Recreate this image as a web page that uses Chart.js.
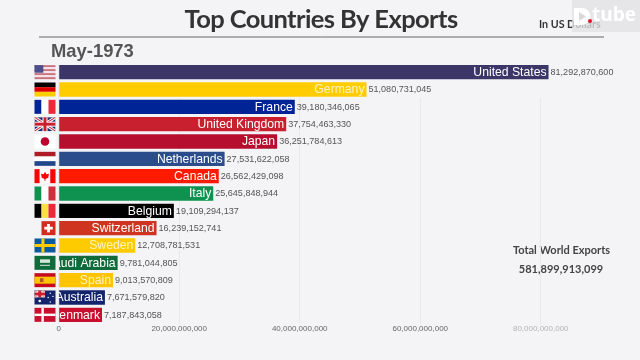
<!doctype html>
<html lang="en">

<head>
    <meta charset="utf-8">
    <title>Top Countries By Exports</title>
    <style>
        html, body { margin: 0; background: #f4f4f7; }
        canvas { display: block; }
    </style>
</head>

<body>
    <canvas id="myChart" width="640" height="360"></canvas>
    <script src="https://cdn.jsdelivr.net/npm/chart.js@4"></script>
    <script>
        var countries = ['United States', 'Germany', 'France', 'United Kingdom', 'Japan', 'Netherlands', 'Canada', 'Italy',
            'Belgium', 'Switzerland', 'Sweden', 'Saudi Arabia', 'Spain', 'Australia', 'Denmark'];
        var exportValues = [81292870600, 51080731045, 39180346065, 37754463330, 36251784613, 27531622058, 26562429098, 25645848944,
            19109294137, 16239152741, 12708781531, 9781044805, 9013570809, 7671579820, 7187843058];
        var barColors = ['#3c3567', '#ffcc00', '#002395', '#c8202f', '#b60e2f', '#2b4d8c', '#ff1a00', '#0f9150',
            '#000000', '#cf3420', '#fecb00', '#0f6b3a', '#fec400', '#14246b', '#c8102e'];
        var tickValues = [0, 20000000000, 40000000000, 60000000000, 80000000000];
        var titleText = 'Top Countries By Exports';
        var dateText = 'May-1973';
        var unitText = 'In US Dollars';
        var totalLabel = 'Total World Exports';
        var totalValue = 581899913099;

        function fmt(n) {
            return n.toLocaleString('en-US');
        }

        // 帯だけの国旗
        function hStripes(c, x, y, w, h, cols) {
            cols.forEach(function (col, i) {
                c.fillStyle = col;
                c.fillRect(x, y + h * i / cols.length, w, h / cols.length);
            });
        }
        function vStripes(c, x, y, w, h, cols) {
            cols.forEach(function (col, i) {
                c.fillStyle = col;
                c.fillRect(x + w * i / cols.length, y, w / cols.length, h);
            });
        }
        function cross(c, x, y, w, h, bg, fg, t) {
            c.fillStyle = bg;
            c.fillRect(x, y, w, h);
            c.fillStyle = fg;
            c.fillRect(x + w * 0.33, y, t, h);
            c.fillRect(x, y + h / 2 - t / 2, w, t);
        }
        function unionJack(c, x, y, w, h) {
            c.save();
            c.beginPath();
            c.rect(x, y, w, h);
            c.clip();
            c.fillStyle = '#1f2f6b';
            c.fillRect(x, y, w, h);
            c.lineWidth = 3;
            c.strokeStyle = '#ffffff';
            c.beginPath();
            c.moveTo(x, y); c.lineTo(x + w, y + h);
            c.moveTo(x + w, y); c.lineTo(x, y + h);
            c.stroke();
            c.lineWidth = 1.1;
            c.strokeStyle = '#c8202f';
            c.stroke();
            c.fillStyle = '#ffffff';
            c.fillRect(x + w / 2 - 2.5, y, 5, h);
            c.fillRect(x, y + h / 2 - 2.5, w, 5);
            c.fillStyle = '#c8202f';
            c.fillRect(x + w / 2 - 1.5, y, 3, h);
            c.fillRect(x, y + h / 2 - 1.5, w, 3);
            c.restore();
        }

        var flagDraw = {
            'United States': function (c, x, y, w, h) {
                for (var i = 0; i < 7; i++) {
                    c.fillStyle = i % 2 ? '#f3e3e4' : '#c8737f';
                    c.fillRect(x, y + h * i / 7, w, h / 7);
                }
                c.fillStyle = '#4d4f8c';
                c.fillRect(x, y, w * 0.42, h * 0.54);
            },
            'Germany': function (c, x, y, w, h) { hStripes(c, x, y, w, h, ['#000000', '#dd0000', '#ffce00']); },
            'France': function (c, x, y, w, h) { vStripes(c, x, y, w, h, ['#002395', '#ffffff', '#ed2939']); },
            'United Kingdom': unionJack,
            'Japan': function (c, x, y, w, h) {
                c.fillStyle = '#ffffff';
                c.fillRect(x, y, w, h);
                c.fillStyle = '#bc002d';
                c.beginPath();
                c.arc(x + w / 2, y + h / 2, 4.3, 0, Math.PI * 2);
                c.fill();
            },
            'Netherlands': function (c, x, y, w, h) { hStripes(c, x, y, w, h, ['#ae1c28', '#ffffff', '#21468b']); },
            'Canada': function (c, x, y, w, h) {
                vStripes(c, x, y, w, h, ['#ff0000', '#ffffff', '#ffffff', '#ff0000']);
                c.fillStyle = '#ff0000';
                var cx = x + w / 2, cy = y + h / 2;
                c.beginPath();
                c.moveTo(cx, cy - 4.5);
                c.lineTo(cx + 1.4, cy - 1.8);
                c.lineTo(cx + 4, cy - 2.4);
                c.lineTo(cx + 3.2, cy + 1.6);
                c.lineTo(cx + 0.5, cy + 2.8);
                c.lineTo(cx + 0.5, cy + 4.6);
                c.lineTo(cx - 0.5, cy + 4.6);
                c.lineTo(cx - 0.5, cy + 2.8);
                c.lineTo(cx - 3.2, cy + 1.6);
                c.lineTo(cx - 4, cy - 2.4);
                c.lineTo(cx - 1.4, cy - 1.8);
                c.closePath();
                c.fill();
            },
            'Italy': function (c, x, y, w, h) { vStripes(c, x, y, w, h, ['#0f9150', '#ffffff', '#cd2f3c']); },
            'Belgium': function (c, x, y, w, h) { vStripes(c, x, y, w, h, ['#000000', '#fae042', '#ed2939']); },
            'Switzerland': function (c, x, y, w, h) {
                c.fillStyle = '#d52b1e';
                c.fillRect(x + w - h, y, h, h);
                c.fillStyle = '#ffffff';
                var cx = x + w - h / 2, cy = y + h / 2;
                c.fillRect(cx - 4.2, cy - 1.4, 8.4, 2.8);
                c.fillRect(cx - 1.4, cy - 4.2, 2.8, 8.4);
            },
            'Sweden': function (c, x, y, w, h) { cross(c, x, y, w, h, '#0a5a9e', '#fecc00', 3); },
            'Saudi Arabia': function (c, x, y, w, h) {
                c.fillStyle = '#0f6b3a';
                c.fillRect(x, y, w, h);
                c.fillStyle = '#d4e6da';
                c.fillRect(x + 5.5, y + 3.5, 10, 3.5);
                c.fillRect(x + 5.5, y + 9, 10, 1);
            },
            'Spain': function (c, x, y, w, h) {
                c.fillStyle = '#c60b1e';
                c.fillRect(x, y, w, h);
                c.fillStyle = '#ffc400';
                c.fillRect(x, y + h / 4, w, h / 2);
                c.fillStyle = '#b5562a';
                c.fillRect(x + 5.5, y + 5, 3.5, 4);
            },
            'Australia': function (c, x, y, w, h) {
                c.fillStyle = '#14246b';
                c.fillRect(x, y, w, h);
                unionJack(c, x, y, w * 0.5, h * 0.5);
                c.fillStyle = '#ffffff';
                [[0.25, 0.75, 1.3], [0.75, 0.2, 0.7], [0.65, 0.5, 0.7], [0.88, 0.42, 0.7], [0.75, 0.82, 0.7]].forEach(function (s) {
                    c.beginPath();
                    c.arc(x + w * s[0], y + h * s[1], s[2], 0, Math.PI * 2);
                    c.fill();
                });
            },
            'Denmark': function (c, x, y, w, h) { cross(c, x, y, w, h, '#c8102e', '#ffffff', 2.4); }
        };

        var decorPlugin = {
            id: 'decor',
            beforeDraw: function (chart) {
                var c = chart.ctx;
                c.save();
                c.fillStyle = '#f4f4f7';
                c.fillRect(0, 0, chart.width, chart.height);
                c.textBaseline = 'middle';
                c.fillStyle = '#333333';
                c.font = 'bold 25.5px Lato';
                c.letterSpacing = '-0.6px';
                c.textAlign = 'center';
                c.fillText(titleText, 321, 20);
                c.letterSpacing = '0px';
                c.strokeStyle = '#666666';
                c.lineWidth = 1;
                c.beginPath();
                c.moveTo(39, 37);
                c.lineTo(604, 37);
                c.stroke();
                c.fillStyle = '#555555';
                c.font = 'bold 18.4px "Liberation Sans"';
                c.textAlign = 'left';
                c.fillText(dateText, 51, 51.5);
                c.fillStyle = '#333333';
                c.font = 'bold 10.7px Lato';
                c.fillText(unitText, 539, 25);
                c.fillStyle = '#444444';
                c.font = 'bold 11px Lato';
                c.textAlign = 'center';
                c.fillText(totalLabel, 561.5, 250);
                c.fillText(fmt(totalValue), 561, 269);
                c.restore();
            },
            beforeDatasetsDraw: function (chart) {
                // 上の2本の行にはグリッド線が見えない
                var c = chart.ctx;
                var area = chart.chartArea;
                var rowBottom = (chart.scales.y.getPixelForValue(1) + chart.scales.y.getPixelForValue(2)) / 2;
                c.save();
                c.fillStyle = '#f4f4f7';
                c.fillRect(area.left, area.top, area.width, rowBottom - area.top);
                c.restore();
            },
            afterDatasetsDraw: function (chart) {
                var c = chart.ctx;
                var yScale = chart.scales.y;
                var xScale = chart.scales.x;
                var area = chart.chartArea;
                c.save();
                countries.forEach(function (name, i) {
                    var y = yScale.getPixelForValue(i);
                    var end = xScale.getPixelForValue(exportValues[i]);
                    // 国旗
                    flagDraw[name](c, 34.5, y - 7, 21, 14);
                    // バーの中の国名（左端で切る）
                    c.save();
                    c.beginPath();
                    c.rect(area.left, area.top, area.width, area.height);
                    c.clip();
                    c.fillStyle = name == 'Germany' || name == 'Sweden' || name == 'Spain' ? '#fff3c4' : '#ffffff';
                    c.font = '12.2px "Liberation Sans"';
                    c.textAlign = 'right';
                    c.textBaseline = 'middle';
                    c.fillText(name, end - 2, y + 0.5);
                    c.restore();
                    // 値
                    c.fillStyle = '#555555';
                    c.font = '9.05px "Liberation Sans"';
                    c.textAlign = 'left';
                    c.textBaseline = 'middle';
                    c.fillText(fmt(exportValues[i]), end + 2, y + 0.5);
                });
                // D.tube のロゴ
                c.fillStyle = 'rgba(225,225,228,0.78)';
                c.fillRect(572, 0, 68, 32);
                c.fillStyle = '#ffffff';
                c.beginPath();
                c.moveTo(574, 8);
                c.lineTo(582, 8);
                c.arc(582, 16.5, 8.5, -Math.PI / 2, Math.PI / 2);
                c.lineTo(574, 25);
                c.closePath();
                c.fill();
                c.fillStyle = '#d9d9dd';
                c.beginPath();
                c.moveTo(579, 12);
                c.lineTo(586, 16.5);
                c.lineTo(579, 21);
                c.closePath();
                c.fill();
                c.fillStyle = '#ffffff';
                c.font = 'bold 19px "Open Sans"';
                c.textAlign = 'left';
                c.textBaseline = 'middle';
                c.fillText('tube', 592, 16);
                c.fillStyle = '#e8102a';
                c.beginPath();
                c.arc(590, 21, 2, 0, Math.PI * 2);
                c.fill();
                c.restore();
            }
        };

        var chart = new Chart(document.getElementById('myChart').getContext('2d'), {
            type: 'bar',
            data: {
                labels: countries,
                datasets: [{
                    data: exportValues,
                    backgroundColor: barColors,
                    barPercentage: 0.83,
                    categoryPercentage: 1
                }]
            },
            plugins: [decorPlugin],
            options: {
                indexAxis: 'y',
                responsive: false,
                animation: false,
                layout: { padding: { left: 58.7, top: 63.5, right: 39, bottom: 0 } },
                plugins: { legend: { display: false }, tooltip: { enabled: false } },
                scales: {
                    y: { display: false },
                    x: {
                        min: 0,
                        max: 90000000000,
                        border: { display: false },
                        grid: { color: '#e9e9ec', drawTicks: false },
                        afterFit: function (scale) { scale.height = 36.5; },
                        afterBuildTicks: function (scale) {
                            scale.ticks = tickValues.map(function (v) { return { value: v }; });
                        },
                        ticks: {
                            padding: 0,
                            maxRotation: 0,
                            autoSkip: false,
                            font: { family: '"Liberation Sans"', size: 8 },
                            color: function (ctx) { return ctx.index == 4 ? '#b4b4b6' : '#666666'; },
                            callback: function (v) { return fmt(v); }
                        }
                    }
                }
            }
        });
    </script>
</body>

</html>
